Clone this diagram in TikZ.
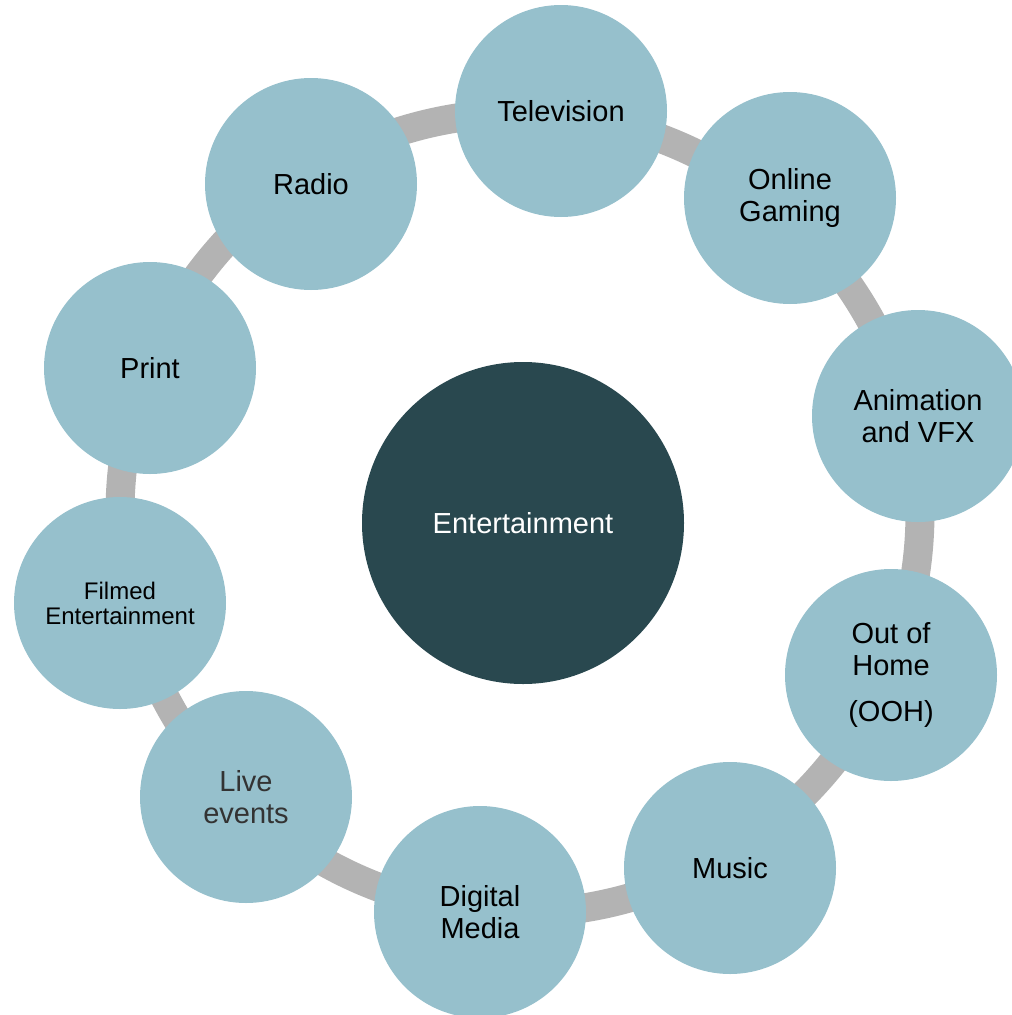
\documentclass[tikz,border=0pt]{standalone}
\usepackage{fontspec}
\setmainfont{Liberation Sans}
\definecolor{leafblue}{HTML}{96C0CC}
\definecolor{hubteal}{HTML}{29484F}
\definecolor{ringgray}{HTML}{B3B3B3}
\definecolor{softblack}{HTML}{333333}
\begin{document}
\begin{tikzpicture}[x=1pt, y=-1pt, font=\fontsize{29}{32}\selectfont,
  leaf/.style={circle, fill=leafblue, minimum size=212pt, inner sep=0pt, align=center},
  hub/.style={circle, fill=hubteal, text=white, minimum size=322pt, inner sep=0pt},
  ringline/.style={draw=ringgray, line width=29pt}]
 \useasboundingbox (0,0) rectangle (1012,1015);
 \clip (0,0) rectangle (1012,1015);
 % ring behind the circles
 \coordinate (ringc) at (520,513);
 \draw[ringline] (ringc) circle[radius=400pt];
 \node[hub] (ent) at (523,523) {Entertainment};
 \node[leaf] (tv) at (561,111) {Television};
 \node[leaf] (game) at (790,198) {Online\\Gaming};
 \node[leaf] (vfx) at (918,416) {Animation\\and VFX};
 \node[leaf] (ooh) at (891,675) {Out of\\Home\\[14pt](OOH)};
 \node[leaf] (music) at (730,868) {Music};
 \node[leaf] (digital) at (480,912) {Digital\\Media};
 \node[leaf, text=softblack] (live) at (246,797) {Live\\events};
 \node[leaf, font=\fontsize{24}{25}\selectfont] (film) at (120,603) {Filmed\\Entertainment};
 \node[leaf] (print) at (150,368) {Print};
 \node[leaf] (radio) at (311,184) {Radio};
\end{tikzpicture}
\end{document}
